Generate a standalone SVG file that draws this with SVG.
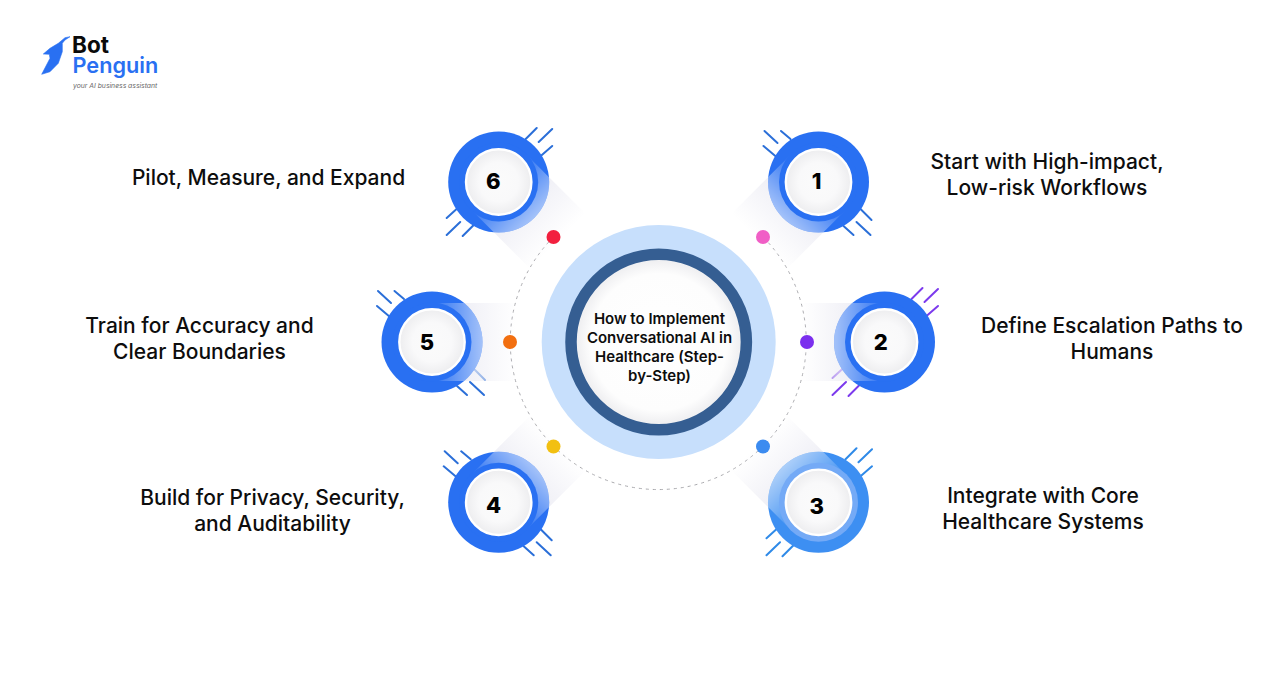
<svg xmlns="http://www.w3.org/2000/svg" xmlns:xlink="http://www.w3.org/1999/xlink" width="1288" height="686" viewBox="0 0 1288 686">
<style>
.lbl{font-family:Inter,"Liberation Sans",sans-serif;font-size:21px;font-weight:500;fill:#0d0d0d;text-anchor:middle}
.ctr{font-family:Inter,"Liberation Sans",sans-serif;font-size:15px;font-weight:600;fill:#0d0d0d;text-anchor:middle}
.num{font-family:Inter,"Liberation Sans",sans-serif;font-size:22px;font-weight:800;fill:#000;text-anchor:middle}
.tick{fill:none;stroke-width:2;stroke-linecap:round}
.r{fill:#2970f2}.i{fill:#2970f2}
</style>
<defs>
<linearGradient id="gBand" gradientUnits="userSpaceOnUse" x1="-84" y1="0" x2="-35" y2="0"><stop offset="0" stop-color="#eeeef5" stop-opacity="0"/><stop offset="1" stop-color="#eeeef5" stop-opacity=".85"/></linearGradient>
<linearGradient id="gOver" gradientUnits="userSpaceOnUse" x1="-51" y1="0" x2="2" y2="0"><stop offset="0" stop-color="#fff" stop-opacity=".58"/><stop offset="1" stop-color="#fff" stop-opacity="0"/></linearGradient>
<radialGradient id="gDisc"><stop offset="0" stop-color="#fbfbfb"/><stop offset=".6" stop-color="#f9f9fa"/><stop offset="1" stop-color="#ededef"/></radialGradient>
<radialGradient id="gCenter"><stop offset="0" stop-color="#fff"/><stop offset=".78" stop-color="#fdfdfd"/><stop offset=".92" stop-color="#f0f0f2"/><stop offset="1" stop-color="#fbfbfb"/></radialGradient>
<clipPath id="ringClip"><circle r="50.5"/></clipPath>
<g id="band"><rect x="-84" y="-39" width="84" height="78" fill="url(#gBand)"/></g>
<g id="over"><rect x="-51" y="-39" width="53" height="78" fill="url(#gOver)" clip-path="url(#ringClip)"/></g>
<g id="ticksA" class="tick"><path d="M-54-51L-41-39M-37.5-51L-28-43M-55-36L-42-25M25 44L35 53M38 40L52 53M42 27L53 38"/></g>
<g id="ticksB" class="tick"><path d="M27-43L38-54M40-40L53.5-53M42-26L53.5-36M-52 36L-41 26M-52 53L-38.5 40M-36 54L-25 43"/></g>
<circle id="disc" r="32.7" fill="url(#gDisc)" stroke="#fff" stroke-width="2.4"/>
</defs>
<rect width="1288" height="686" fill="#fff"/>

<g id="logo">
<path d="M70 36.7L65 37.7L58.3 43.3L50 48.3L43.3 54L49.3 54.3L50 58.3L41.7 74.3L50 71.7L58.3 63.3L62.3 51.7L62.3 43.3L65 40Z" fill="#2970f2" stroke="#2970f2" stroke-width=".6" stroke-linejoin="round"/>
<text x="72" y="52.7" font-family="Inter,'Liberation Sans',sans-serif" font-size="22.5" font-weight="700" fill="#0a0a0a">Bot</text>
<text x="72.5" y="72.7" font-family="Inter,'Liberation Sans',sans-serif" font-size="21.7" font-weight="600" fill="#2970f2">Penguin</text>
<text x="73" y="88.3" font-family="Inter,'Liberation Sans',sans-serif" font-size="6.8" font-style="italic" fill="#666">your AI business assistant</text>
</g>

<g id="connectors">
<path d="M553.5 237A148 148 0 1 0 763 237" fill="none" stroke="#aaaaae" stroke-width="1" stroke-dasharray="3 4"/>
</g>

<g id="center">
<circle cx="658.7" cy="342" r="117" fill="#c7dffc"/>
<circle cx="658.7" cy="342" r="87.7" fill="url(#gCenter)" stroke="#355e92" stroke-width="11.5"/>
<text class="ctr" x="659.5" y="323.5">How to Implement</text>
<text class="ctr" x="659.5" y="342.5">Conversational AI in</text>
<text class="ctr" x="659.5" y="361.5">Healthcare (Step-</text>
<text class="ctr" x="659.5" y="380.5">by-Step)</text>
</g>

<g id="node1">
<g transform="translate(818.5 182)">
<use xlink:href="#ticksA" stroke="#2b6fd8"/>
<use xlink:href="#band" transform="rotate(-45)"/>
<circle r="50.5" class="r"/>
<use xlink:href="#over" transform="rotate(-45)"/>
<circle r="39.5" class="i"/>
<use xlink:href="#disc"/>
<text class="num" x="-2" y="7">1</text>
</g>
<circle cx="763" cy="237" r="7" fill="#f05fc6"/>
<text class="lbl" x="1047" y="169">Start with High-impact,</text>
<text class="lbl" x="1047" y="195">Low-risk Workflows</text>
</g>

<g id="node2">
<g transform="translate(884.5 342)">
<use xlink:href="#ticksB" stroke="#7c3aed"/>
<use xlink:href="#band"/>
<circle r="50.5" class="r"/>
<use xlink:href="#over"/>
<circle r="39.5" class="i"/>
<use xlink:href="#disc"/>
<text class="num" x="-3.7" y="7.7">2</text>
</g>
<circle cx="807" cy="342" r="7" fill="#7b2fee"/>
<text class="lbl" x="1112" y="333">Define Escalation Paths to</text>
<text class="lbl" x="1112" y="359">Humans</text>
</g>

<g id="node3">
<g transform="translate(818.5 502.3)">
<use xlink:href="#ticksB" stroke="#2f8ae8"/>
<use xlink:href="#band" transform="rotate(45)"/>
<circle r="50.5" fill="#3d8ff2"/>
<use xlink:href="#over" transform="rotate(45)"/>
<circle r="39.5" fill="#74aaf6"/>
<use xlink:href="#disc"/>
<text class="num" x="-1.8" y="12">3</text>
</g>
<circle cx="763" cy="446.5" r="7" fill="#3b8bf0"/>
<text class="lbl" x="1043" y="503">Integrate with Core</text>
<text class="lbl" x="1043" y="529">Healthcare Systems</text>
</g>

<g id="node4">
<g transform="translate(498.7 502.3)">
<use xlink:href="#ticksA" stroke="#2b6fd8"/>
<use xlink:href="#band" transform="rotate(135)"/>
<circle r="50.5" class="r"/>
<use xlink:href="#over" transform="rotate(135)"/>
<circle r="39.5" class="i"/>
<use xlink:href="#disc"/>
<text class="num" x="-5" y="10.7">4</text>
</g>
<circle cx="553.5" cy="446.5" r="7" fill="#f2c012"/>
<text class="lbl" x="272.5" y="505">Build for Privacy, Security,</text>
<text class="lbl" x="272.5" y="531">and Auditability</text>
</g>

<g id="node5">
<g transform="translate(432 342)">
<use xlink:href="#ticksA" stroke="#2b6fd8"/>
<use xlink:href="#band" transform="rotate(180)"/>
<circle r="50.5" class="r"/>
<use xlink:href="#over" transform="rotate(180)"/>
<circle r="39.5" class="i"/>
<use xlink:href="#disc"/>
<text class="num" x="-5" y="8">5</text>
</g>
<circle cx="510" cy="342" r="7" fill="#f26f10"/>
<text class="lbl" x="199.5" y="333">Train for Accuracy and</text>
<text class="lbl" x="199.5" y="359">Clear Boundaries</text>
</g>

<g id="node6">
<g transform="translate(498.7 182)">
<use xlink:href="#ticksB" stroke="#2b6fd8"/>
<use xlink:href="#band" transform="rotate(-135)"/>
<circle r="50.5" class="r"/>
<use xlink:href="#over" transform="rotate(-135)"/>
<circle r="39.5" class="i"/>
<use xlink:href="#disc"/>
<text class="num" x="-5.5" y="7">6</text>
</g>
<circle cx="553.5" cy="237" r="7" fill="#f2203f"/>
<text class="lbl" x="268.5" y="185">Pilot, Measure, and Expand</text>
</g>
</svg>
